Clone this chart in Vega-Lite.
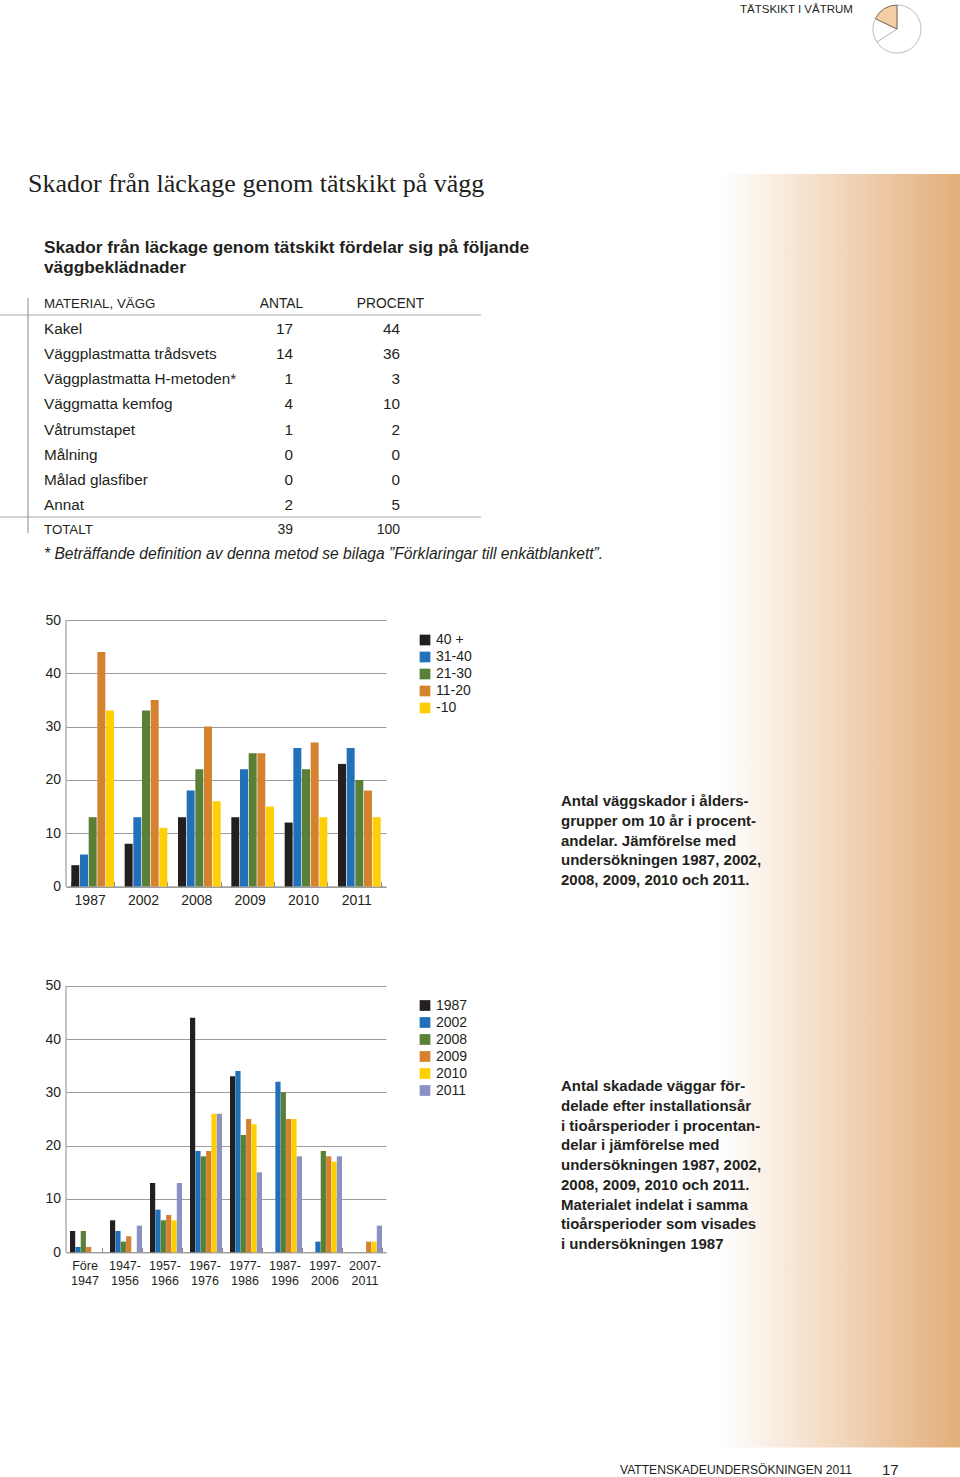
{
"$schema":"https://vega.github.io/schema/vega-lite/v6.json",
"width":960,"height":1477,"padding":0,"autosize":{"type":"none"},"background":"white",
"config":{"view":{"stroke":null},"text":{"font":"Liberation Sans","color":"#231f20"},
"axis":{"labelFont":"Liberation Sans","labelColor":"#231f20","title":null,"grid":false},
"legend":{"labelFont":"Liberation Sans","labelColor":"#231f20"}},
"resolve":{"scale":{"x":"independent","y":"independent","xOffset":"independent","color":"independent","theta":"independent","stroke":"independent"},"axis":{"x":"independent","y":"independent"},"legend":{"color":"independent"}},
"layer":[
{"data":{"values":[{"yta":"bakgrund"}]},
 "mark":{"type":"rect","color":{"gradient":"linear","x1":0,"y1":0,"x2":1,"y2":0,"stops":[{"offset":0,"color":"#ffffff"},{"offset":1,"color":"#e3ae78"}]}},
 "encoding":{"x":{"field":"yta","type":"nominal","axis":null,"scale":{"domain":["bakgrund"],"range":[722,960],"padding":0}},
 "y":{"field":"yta","type":"nominal","axis":null,"scale":{"domain":["bakgrund"],"range":[174,1447.5],"padding":0}}}},
{"data":{"values":[{"plats":"ikon","sektor":"a","ordning":1,"grader":237},{"plats":"ikon","sektor":"b","ordning":2,"grader":58.5},{"plats":"ikon","sektor":"c","ordning":3,"grader":64.5}]},
 "mark":{"type":"arc","outerRadius":24,"strokeWidth":1},
 "encoding":{"theta":{"field":"grader","type":"quantitative","stack":true},"order":{"field":"ordning"},
 "x":{"field":"plats","type":"nominal","axis":null,"scale":{"type":"point","domain":["ikon"],"range":[897,897]}},
 "y":{"field":"plats","type":"nominal","axis":null,"scale":{"type":"point","domain":["ikon"],"range":[29,29]}},
 "color":{"field":"sektor","type":"nominal","legend":null,"scale":{"domain":["a","b","c"],"range":["#ffffff","#ffffff","#f2cda6"]}},
 "stroke":{"field":"sektor","type":"nominal","legend":null,"scale":{"domain":["a","b","c"],"range":["#bdbdbd","#bdbdbd","#7d6a58"]}}}},
{"data":{"values":[{"t":"TÄTSKIKT I VÅTRUM"}]},"mark":{"type":"text","align":"left","baseline":"middle","fontSize":11.5},
 "encoding":{"text":{"field":"t"},"x":{"field":"t","type":"nominal","axis":null,"scale":{"type":"point","range":[740,740]}},"y":{"field":"t","type":"nominal","axis":null,"scale":{"type":"point","range":[9.5,9.5]}}}},
{"data":{"values":[{"t":"Skador från läckage genom tätskikt på vägg"}]},"mark":{"type":"text","align":"left","baseline":"middle","font":"Liberation Serif","fontSize":26},
 "encoding":{"text":{"field":"t"},"x":{"field":"t","type":"nominal","axis":null,"scale":{"type":"point","range":[28,28]}},"y":{"field":"t","type":"nominal","axis":null,"scale":{"type":"point","range":[184,184]}}}},
{"data":{"values":[{"t":"Skador från läckage genom tätskikt fördelar sig på följande\nväggbeklädnader"}]},"mark":{"type":"text","align":"left","baseline":"middle","fontWeight":"bold","fontSize":17.25,"lineBreak":"\n","lineHeight":20},
 "encoding":{"text":{"field":"t"},"x":{"field":"t","type":"nominal","axis":null,"scale":{"type":"point","range":[44,44]}},"y":{"field":"t","type":"nominal","axis":null,"scale":{"type":"point","range":[247.5,247.5]}}}},
{"data":{"values":[{"linje":"a","fran":0,"till":1},{"linje":"b","fran":0,"till":1}]},"mark":{"type":"rule","color":"#a8a8a8","strokeWidth":1},
 "encoding":{"x":{"field":"fran","type":"quantitative","axis":null,"scale":{"domain":[0,1],"range":[0,481]}},"x2":{"field":"till"},
 "y":{"field":"linje","type":"nominal","axis":null,"scale":{"type":"point","domain":["a","b"],"range":[315,517],"padding":0}}}},
{"data":{"values":[{"linje":"c","fran":0,"till":1}]},"mark":{"type":"rule","color":"#8a8a8a","strokeWidth":1},
 "encoding":{"y":{"field":"fran","type":"quantitative","axis":null,"scale":{"domain":[0,1],"range":[298,533]}},"y2":{"field":"till"},
 "x":{"field":"linje","type":"nominal","axis":null,"scale":{"type":"point","domain":["c"],"range":[28,28]}}}},
{"data":{"values":[{"k":"MATERIAL, VÄGG","r":"rubrik"},{"k":"Kakel","r":"1"},{"k":"Väggplastmatta trådsvets","r":"2"},{"k":"Väggplastmatta H-metoden*","r":"3"},{"k":"Väggmatta kemfog","r":"4"},{"k":"Våtrumstapet","r":"5"},{"k":"Målning","r":"6"},{"k":"Målad glasfiber","r":"7"},{"k":"Annat","r":"8"},{"k":"TOTALT","r":"total"}]},
 "mark":{"type":"text","align":"left","baseline":"middle"},
 "encoding":{"text":{"field":"k"},"size":{"condition":{"test":"datum.r=='rubrik'||datum.r=='total'","value":13.3},"value":15.3},
 "x":{"datum":"material","type":"nominal","axis":null,"scale":{"type":"point","domain":["material"],"range":[44,44]}},
 "y":{"field":"r","type":"nominal","axis":null,"scale":{"type":"point","padding":0,"domain":["rubrik","1","2","3","4","5","6","7","8","total"],"range":[304,530]}}}},
{"data":{"values":[{"k":"antal","v":"17","r":"1"},{"k":"antal","v":"14","r":"2"},{"k":"antal","v":"1","r":"3"},{"k":"antal","v":"4","r":"4"},{"k":"antal","v":"1","r":"5"},{"k":"antal","v":"0","r":"6"},{"k":"antal","v":"0","r":"7"},{"k":"antal","v":"2","r":"8"},{"k":"antal","v":"39","r":"total"},
 {"k":"procent","v":"44","r":"1"},{"k":"procent","v":"36","r":"2"},{"k":"procent","v":"3","r":"3"},{"k":"procent","v":"10","r":"4"},{"k":"procent","v":"2","r":"5"},{"k":"procent","v":"0","r":"6"},{"k":"procent","v":"0","r":"7"},{"k":"procent","v":"5","r":"8"},{"k":"procent","v":"100","r":"total"}]},
 "mark":{"type":"text","align":"right","baseline":"middle"},
 "encoding":{"text":{"field":"v"},"size":{"condition":{"test":"datum.r=='total'","value":14},"value":15.3},
 "x":{"field":"k","type":"nominal","axis":null,"scale":{"type":"point","padding":0,"domain":["antal","procent"],"range":[293,400]}},
 "y":{"field":"r","type":"nominal","axis":null,"scale":{"type":"point","padding":0,"domain":["rubrik","1","2","3","4","5","6","7","8","total"],"range":[304,530]}}}},
{"data":{"values":[{"k":"ANTAL"},{"k":"PROCENT"}]},"mark":{"type":"text","align":"center","baseline":"middle","fontSize":13.8},
 "encoding":{"text":{"field":"k"},"x":{"field":"k","type":"nominal","axis":null,"scale":{"type":"point","padding":0,"domain":["ANTAL","PROCENT"],"range":[281.5,390.5]}},
 "y":{"datum":"rubrik","type":"nominal","axis":null,"scale":{"type":"point","domain":["rubrik"],"range":[304,304]}}}},
{"data":{"values":[{"t":"* Beträffande definition av denna metod se bilaga ”Förklaringar till enkätblankett”."}]},"mark":{"type":"text","align":"left","baseline":"middle","fontStyle":"italic","fontSize":15.6},
 "encoding":{"text":{"field":"t"},"x":{"field":"t","type":"nominal","axis":null,"scale":{"type":"point","range":[44,44]}},"y":{"field":"t","type":"nominal","axis":null,"scale":{"type":"point","range":[554,554]}}}},
{"data":{"values":[
{"ar":"1987","g":"40 +","v":4},{"ar":"1987","g":"31-40","v":6},{"ar":"1987","g":"21-30","v":13},{"ar":"1987","g":"11-20","v":44},{"ar":"1987","g":"-10","v":33},
{"ar":"2002","g":"40 +","v":8},{"ar":"2002","g":"31-40","v":13},{"ar":"2002","g":"21-30","v":33},{"ar":"2002","g":"11-20","v":35},{"ar":"2002","g":"-10","v":11},
{"ar":"2008","g":"40 +","v":13},{"ar":"2008","g":"31-40","v":18},{"ar":"2008","g":"21-30","v":22},{"ar":"2008","g":"11-20","v":30},{"ar":"2008","g":"-10","v":16},
{"ar":"2009","g":"40 +","v":13},{"ar":"2009","g":"31-40","v":22},{"ar":"2009","g":"21-30","v":25},{"ar":"2009","g":"11-20","v":25},{"ar":"2009","g":"-10","v":15},
{"ar":"2010","g":"40 +","v":12},{"ar":"2010","g":"31-40","v":26},{"ar":"2010","g":"21-30","v":22},{"ar":"2010","g":"11-20","v":27},{"ar":"2010","g":"-10","v":13},
{"ar":"2011","g":"40 +","v":23},{"ar":"2011","g":"31-40","v":26},{"ar":"2011","g":"21-30","v":20},{"ar":"2011","g":"11-20","v":18},{"ar":"2011","g":"-10","v":13}]},
 "mark":{"type":"bar"},
 "encoding":{
 "x":{"field":"ar","type":"nominal","scale":{"domain":["1987","2002","2008","2009","2010","2011"],"range":[66,386],"paddingInner":0.2,"paddingOuter":0.1},
  "axis":{"orient":"bottom","offset":-590.5,"labelAngle":0,"labelFontSize":14,"labelPadding":12,"labelOffset":-3,"tickBand":"extent","tickSize":-5,"tickColor":"#8a8a8a","domainColor":"#777777"}},
 "xOffset":{"field":"g","type":"nominal","scale":{"domain":["40 +","31-40","21-30","11-20","-10"],"paddingInner":0.08,"paddingOuter":0}},
 "y":{"field":"v","type":"quantitative","scale":{"domain":[0,50],"range":[886.5,620]},
  "axis":{"orient":"left","offset":-386,"values":[0,10,20,30,40,50],"domain":false,"tickSize":320,"tickColor":"#9c9c9c","labelFontSize":14,"labelPadding":5.5}},
 "color":{"field":"g","type":"nominal","scale":{"domain":["40 +","31-40","21-30","11-20","-10"],"range":["#231f20","#2270b9","#5a7f37","#d5822f","#ffcf06"]},
  "legend":{"orient":"none","legendX":418,"legendY":633,"title":null,"symbolType":"square","symbolSize":115,"symbolStrokeWidth":0,"labelFontSize":14,"rowPadding":3,"labelOffset":4,"labelExpr":"datum.label=='-10' ? '\u00a0-10' : datum.label"}}}},
{"data":{"values":[{"axel":"y"}]},"mark":{"type":"rule","color":"#8a8a8a","strokeWidth":1},
 "encoding":{"x":{"datum":"a","type":"nominal","axis":null,"scale":{"type":"point","domain":["a"],"range":[66,66]}},
 "y":{"datum":0,"type":"quantitative","axis":null,"scale":{"domain":[0,50],"range":[886.5,620]}},"y2":{"datum":50}}},
{"data":{"values":[{"t":"Antal väggskador i ålders-\ngrupper om 10 år i procent-\nandelar. Jämförelse med\nundersökningen 1987, 2002,\n2008, 2009, 2010 och 2011."}]},"mark":{"type":"text","align":"left","baseline":"middle","fontWeight":"bold","fontSize":15,"lineBreak":"\n","lineHeight":19.75},
 "encoding":{"text":{"field":"t"},"x":{"field":"t","type":"nominal","axis":null,"scale":{"type":"point","range":[561,561]}},"y":{"field":"t","type":"nominal","axis":null,"scale":{"type":"point","range":[801,801]}}}},
{"data":{"values":[
{"p":"Före 1947","g":"1987","v":4},{"p":"Före 1947","g":"2002","v":1},{"p":"Före 1947","g":"2008","v":4},{"p":"Före 1947","g":"2009","v":1},
{"p":"1947- 1956","g":"1987","v":6},{"p":"1947- 1956","g":"2002","v":4},{"p":"1947- 1956","g":"2008","v":2},{"p":"1947- 1956","g":"2009","v":3},{"p":"1947- 1956","g":"2011","v":5},
{"p":"1957- 1966","g":"1987","v":13},{"p":"1957- 1966","g":"2002","v":8},{"p":"1957- 1966","g":"2008","v":6},{"p":"1957- 1966","g":"2009","v":7},{"p":"1957- 1966","g":"2010","v":6},{"p":"1957- 1966","g":"2011","v":13},
{"p":"1967- 1976","g":"1987","v":44},{"p":"1967- 1976","g":"2002","v":19},{"p":"1967- 1976","g":"2008","v":18},{"p":"1967- 1976","g":"2009","v":19},{"p":"1967- 1976","g":"2010","v":26},{"p":"1967- 1976","g":"2011","v":26},
{"p":"1977- 1986","g":"1987","v":33},{"p":"1977- 1986","g":"2002","v":34},{"p":"1977- 1986","g":"2008","v":22},{"p":"1977- 1986","g":"2009","v":25},{"p":"1977- 1986","g":"2010","v":24},{"p":"1977- 1986","g":"2011","v":15},
{"p":"1987- 1996","g":"2002","v":32},{"p":"1987- 1996","g":"2008","v":30},{"p":"1987- 1996","g":"2009","v":25},{"p":"1987- 1996","g":"2010","v":25},{"p":"1987- 1996","g":"2011","v":18},
{"p":"1997- 2006","g":"2002","v":2},{"p":"1997- 2006","g":"2008","v":19},{"p":"1997- 2006","g":"2009","v":18},{"p":"1997- 2006","g":"2010","v":17},{"p":"1997- 2006","g":"2011","v":18},
{"p":"2007- 2011","g":"2009","v":2},{"p":"2007- 2011","g":"2010","v":2},{"p":"2007- 2011","g":"2011","v":5}]},
 "mark":{"type":"bar"},
 "encoding":{
 "x":{"field":"p","type":"nominal","scale":{"domain":["Före 1947","1947- 1956","1957- 1966","1967- 1976","1977- 1986","1987- 1996","1997- 2006","2007- 2011"],"range":[66,386],"paddingInner":0.2,"paddingOuter":0.1},
  "axis":{"orient":"bottom","offset":-224.7,"labelAngle":0,"labelFontSize":12.5,"labelPadding":12.5,"labelOffset":-1.5,"labelLineHeight":14.5,"labelExpr":"split(datum.label,' ')","tickBand":"extent","tickSize":-5,"tickColor":"#8a8a8a","domainColor":"#777777"}},
 "xOffset":{"field":"g","type":"nominal","scale":{"domain":["1987","2002","2008","2009","2010","2011"],"paddingInner":0.03,"paddingOuter":0}},
 "y":{"field":"v","type":"quantitative","scale":{"domain":[0,50],"range":[1252.3,985.7]},
  "axis":{"orient":"left","offset":-386,"values":[0,10,20,30,40,50],"domain":false,"tickSize":320,"tickColor":"#9c9c9c","labelFontSize":14,"labelPadding":5.5}},
 "color":{"field":"g","type":"nominal","scale":{"domain":["1987","2002","2008","2009","2010","2011"],"range":["#231f20","#2270b9","#5a7f37","#d5822f","#ffcf06","#8a92c4"]},
  "legend":{"orient":"none","legendX":418,"legendY":998.5,"title":null,"symbolType":"square","symbolSize":115,"symbolStrokeWidth":0,"labelFontSize":14,"rowPadding":3,"labelOffset":4}}}},
{"data":{"values":[{"axel":"y"}]},"mark":{"type":"rule","color":"#8a8a8a","strokeWidth":1},
 "encoding":{"x":{"datum":"a","type":"nominal","axis":null,"scale":{"type":"point","domain":["a"],"range":[66,66]}},
 "y":{"datum":0,"type":"quantitative","axis":null,"scale":{"domain":[0,50],"range":[1252.3,985.7]}},"y2":{"datum":50}}},
{"data":{"values":[{"t":"Antal skadade väggar för-\ndelade efter installationsår\ni tioårsperioder i procentan-\ndelar i jämförelse med\nundersökningen 1987, 2002,\n2008, 2009, 2010 och 2011.\nMaterialet indelat i samma\ntioårsperioder som visades\ni undersökningen 1987"}]},"mark":{"type":"text","align":"left","baseline":"middle","fontWeight":"bold","fontSize":15,"lineBreak":"\n","lineHeight":19.75},
 "encoding":{"text":{"field":"t"},"x":{"field":"t","type":"nominal","axis":null,"scale":{"type":"point","range":[561,561]}},"y":{"field":"t","type":"nominal","axis":null,"scale":{"type":"point","range":[1086,1086]}}}},
{"data":{"values":[{"t":"VATTENSKADEUNDERSÖKNINGEN 2011"}]},"mark":{"type":"text","align":"left","baseline":"middle","fontSize":12.1},
 "encoding":{"text":{"field":"t"},"x":{"field":"t","type":"nominal","axis":null,"scale":{"type":"point","range":[620,620]}},"y":{"field":"t","type":"nominal","axis":null,"scale":{"type":"point","range":[1469.5,1469.5]}}}},
{"data":{"values":[{"t":"17"}]},"mark":{"type":"text","align":"left","baseline":"middle","fontSize":15},
 "encoding":{"text":{"field":"t"},"x":{"field":"t","type":"nominal","axis":null,"scale":{"type":"point","range":[882,882]}},"y":{"field":"t","type":"nominal","axis":null,"scale":{"type":"point","range":[1470,1470]}}}}
]}
